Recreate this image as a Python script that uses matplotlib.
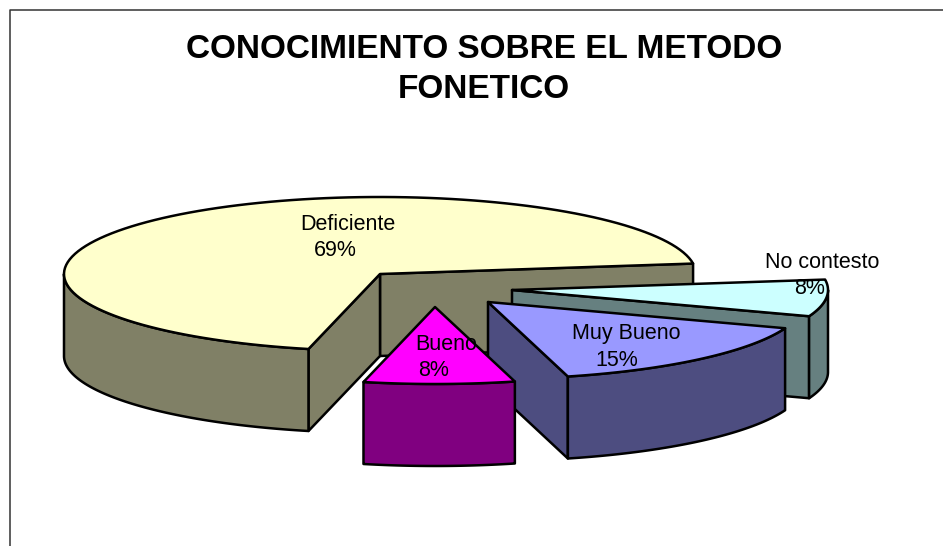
import numpy as np
import matplotlib
matplotlib.use("Agg")
import matplotlib.pyplot as plt
from matplotlib.patches import Polygon

title_lines = ["CONOCIMIENTO SOBRE EL METODO", "FONETICO"]
categories = ["Deficiente", "Bueno", "Muy Bueno", "No contesto"]
values = [69.2, 7.7, 15.4, 7.7]

plt.rcParams["font.family"] = ["Liberation Sans", "DejaVu Sans"]
top_colors = ["#FFFFCC", "#FF00FF", "#9999FF", "#CCFFFF"]
side_colors = ["#808066", "#800080", "#4D4D80", "#668080"]
offsets = [(0, 0), (55, 33), (108, 28), (132, 16)]
label_pos = [((348, 224), (335, 250)), ((446, 344), (434, 370)),
             ((626, 333), (617, 360)), ((822, 262), (810, 288))]

CX, CY, RX, RY, DEPTH = 380, 274, 316, 77, 82
START = 7.8
LW = 1.8

fig = plt.figure(figsize=(9.43, 5.46), dpi=100, facecolor="white")
ax = fig.add_axes([0, 0, 1, 1])
ax.set_xlim(0, 943)
ax.set_ylim(546, 0)
ax.axis("off")

ax.plot([9.5, 9.5, 943], [546, 9.5, 9.5], color="#333333", lw=1.1, zorder=1)


def arc(cx, cy, t1, t2):
    t = np.radians(np.linspace(t1, t2, 120))
    return np.column_stack([cx + RX * np.cos(t), cy - RY * np.sin(t)])


def wall(points):
    lower = points[::-1] + np.array([0, DEPTH])
    return np.vstack([points, lower])


def add(points, color, z):
    ax.add_patch(Polygon(points, closed=True, facecolor=color, edgecolor="black",
                         lw=LW, joinstyle="round", zorder=z))


angles = START + np.concatenate([[0], np.cumsum(values)]) * 360 / np.sum(values)
# draw back to front: Deficiente, No contesto, Muy Bueno, Bueno
for order, i in enumerate([0, 3, 2, 1]):
    z = 2 + order
    t1, t2 = angles[i], angles[i + 1]
    cx, cy = CX + offsets[i][0], CY + offsets[i][1]
    apex = np.array([[cx, cy]], dtype=float)
    p1 = arc(cx, cy, t1, t1)[:1]
    p2 = arc(cx, cy, t2, t2)[:1]
    # cut faces that look toward the viewer
    if p1[0, 0] > cx:
        add(wall(np.vstack([apex, p1])), side_colors[i], z)
    if p2[0, 0] < cx and t2 - t1 > 180:
        add(wall(np.vstack([p2, apex])), side_colors[i], z)
    # outer rim: only the front half of the ellipse is visible
    lo, hi = max(t1, 180), min(t2, 360)
    if hi > lo:
        add(wall(arc(cx, cy, lo, hi)), side_colors[i], z)
    add(np.vstack([apex, arc(cx, cy, t1, t2)]), top_colors[i], z)

ax.text(484, 49, title_lines[0], ha="center", va="center", fontsize=24,
        fontweight="bold", color="black", zorder=10)
ax.text(484, 89.5, title_lines[1], ha="center", va="center", fontsize=24,
        fontweight="bold", color="black", zorder=10)

for name, val, (p_name, p_val) in zip(categories, values, label_pos):
    ax.text(*p_name, name, ha="center", va="center", fontsize=15.5, color="black", zorder=10)
    ax.text(*p_val, f"{val:.0f}%", ha="center", va="center", fontsize=15.5, color="black", zorder=10)

fig.savefig("out.png", dpi=100, facecolor="white")
